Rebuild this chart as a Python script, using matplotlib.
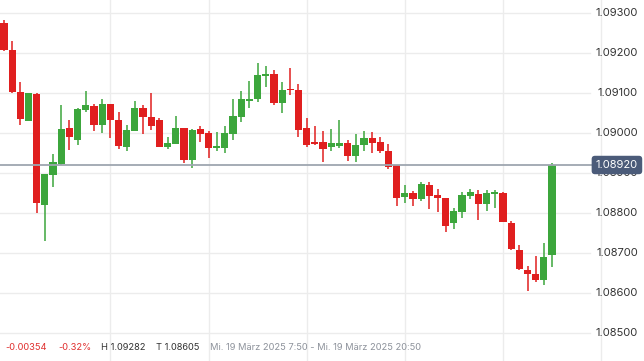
import matplotlib
matplotlib.use("Agg")
import matplotlib.pyplot as plt
from matplotlib.transforms import blended_transform_factory
import numpy as np

plt.rcParams['font.family'] = ['Inter', 'DejaVu Sans']

opens = [1.09274, 1.09208, 1.09103, 1.09031, 1.09098, 1.08821, 1.08896, 1.08923, 1.09013, 1.08983,
         1.09058, 1.09068, 1.09021, 1.09073, 1.09033, 1.08966, 1.09006, 1.09063, 1.09040, 1.09033,
         1.08966, 1.08973, 1.09013, 1.08933, 1.09010, 1.09000, 1.08963, 1.08963, 1.08998, 1.09040,
         1.09081, 1.09085, 1.09143, 1.09148, 1.09075, 1.09110, 1.09108, 1.09013, 1.08978, 1.08978,
         1.08965, 1.08968, 1.08975, 1.08943, 1.08970, 1.08988, 1.08978, 1.08955, 1.08920, 1.08840,
         1.08850, 1.08835, 1.08870, 1.08845, 1.08838, 1.08775, 1.08803, 1.08843, 1.08848, 1.08823,
         1.08848, 1.08850, 1.08775, 1.08708, 1.08658, 1.08648, 1.08633, 1.08695]
highs = [1.09282, 1.09230, 1.09128, 1.09100, 1.09100, 1.08898, 1.08948, 1.09070, 1.09033, 1.09063,
         1.09105, 1.09073, 1.09085, 1.09073, 1.09053, 1.09020, 1.09080, 1.09070, 1.09100, 1.09038,
         1.08990, 1.09043, 1.09013, 1.09010, 1.09018, 1.09005, 1.09003, 1.09018, 1.09085, 1.09105,
         1.09130, 1.09175, 1.09168, 1.09158, 1.09128, 1.09163, 1.09123, 1.09038, 1.09018, 1.09005,
         1.09010, 1.09033, 1.08983, 1.08998, 1.09005, 1.09003, 1.08990, 1.08973, 1.08920, 1.08870,
         1.08855, 1.08878, 1.08878, 1.08860, 1.08838, 1.08813, 1.08853, 1.08860, 1.08858, 1.08858,
         1.08858, 1.08853, 1.08780, 1.08720, 1.08668, 1.08693, 1.08725, 1.08925]
lows = [1.09205, 1.09100, 1.09021, 1.09031, 1.08801, 1.08731, 1.08866, 1.08921, 1.08958, 1.08971,
        1.09053, 1.09006, 1.09001, 1.08988, 1.08961, 1.08956, 1.09006, 1.08998, 1.09008, 1.08966,
        1.08961, 1.08973, 1.08926, 1.08913, 1.08978, 1.08938, 1.08956, 1.08950, 1.08982, 1.09028,
        1.09063, 1.09078, 1.09115, 1.09070, 1.09050, 1.09095, 1.08990, 1.08965, 1.08970, 1.08928,
        1.08955, 1.08963, 1.08930, 1.08928, 1.08955, 1.08950, 1.08950, 1.08910, 1.08818, 1.08825,
        1.08818, 1.08830, 1.08810, 1.08803, 1.08753, 1.08760, 1.08788, 1.08835, 1.08783, 1.08805,
        1.08813, 1.08778, 1.08708, 1.08658, 1.08605, 1.08628, 1.08620, 1.08665]
closes = [1.09208, 1.09103, 1.09036, 1.09100, 1.08826, 1.08898, 1.08928, 1.09010, 1.08991, 1.09060,
          1.09070, 1.09021, 1.09073, 1.09033, 1.08968, 1.09008, 1.09063, 1.09041, 1.09018, 1.08966,
          1.08975, 1.09013, 1.08933, 1.09008, 1.08998, 1.08963, 1.08968, 1.09000, 1.09043, 1.09085,
          1.09085, 1.09145, 1.09148, 1.09075, 1.09108, 1.09108, 1.09008, 1.08970, 1.08973, 1.08960,
          1.08975, 1.08975, 1.08943, 1.08970, 1.08988, 1.08975, 1.08955, 1.08915, 1.08838, 1.08850,
          1.08835, 1.08873, 1.08843, 1.08838, 1.08768, 1.08805, 1.08845, 1.08853, 1.08823, 1.08850,
          1.08853, 1.08778, 1.08710, 1.08660, 1.08648, 1.08633, 1.08690, 1.08920]

price_ticks = [1.085, 1.086, 1.087, 1.088, 1.089, 1.090, 1.091, 1.092, 1.093]
price_labels = ["1.08500", "1.08600", "1.08700", "1.08800", "1.08900", "1.09000", "1.09100", "1.09200", "1.09300"]
time_grid_idx = [13, 25, 37, 49, 61, 73]
last_price = 1.08920
last_label = "1.08920"
info_texts = ["-0.00354", "-0.32%", "H 1.09282", "T 1.08605",
              "Mi. 19 März 2025 7:50 - Mi. 19 März 2025 20:50"]

UP = "#3ca63c"
DOWN = "#e01f1f"
GRID = "#ececec"

W, H = 644, 361
fig = plt.figure(figsize=(W / 100, H / 100), dpi=100)
ax = fig.add_axes([0, 0, 1, 1])
ax.set_axis_off()

step = 8.18
x0px = 4.0
xmin = -x0px / step
xmax = (W - x0px) / step
ymax = 1.09 + 133 / 40000
ymin = 1.09 - (H - 133) / 40000
ax.set_xlim(xmin, xmax)
ax.set_ylim(ymin, ymax)

def px2idx(px):
    return (px - x0px) / step

# grid
for p in price_ticks:
    ax.plot([xmin, px2idx(590)], [p, p], color=GRID, lw=1.0, zorder=0)
for gi in time_grid_idx:
    ax.axvline(gi, color=GRID, lw=1.0, zorder=0)

# candles
o = np.array(opens); h = np.array(highs); l = np.array(lows); c = np.array(closes)
idx = np.arange(len(o))
cols = [UP if cc >= oo else DOWN for oo, cc in zip(o, c)]
ax.vlines(idx, l, h, colors=cols, lw=1.1, zorder=2)
bottoms = np.minimum(o, c)
heights = np.maximum(np.abs(c - o), 0.00003)
ax.bar(idx, heights, bottom=bottoms, width=0.88, color=cols, zorder=3, linewidth=0)

# last price line
ax.plot([xmin, px2idx(592)], [last_price, last_price], color="#9ea6b0", lw=1.3, zorder=4)

# price labels (the 1.08900 label sits behind the last-price box, as in the reference)
tr = blended_transform_factory(ax.transAxes, ax.transData)
for p, s in zip(price_ticks, price_labels):
    ax.text(638 / W, p, s, transform=tr, ha="right", va="center", fontsize=8, color="#333333", zorder=5)
ax.text(638 / W, last_price, last_label, transform=tr, ha="right", va="center", fontsize=8,
        color="white", zorder=6,
        bbox=dict(boxstyle="round,pad=0.38,rounding_size=0.3", fc="#4b5b79", ec="none"))

# bottom info line
ypos = 1 - 348 / H
xs = [5, 58, 101, 156, 210]
tcols = ["#e0302f", "#e0302f", "#333333", "#333333", "#8d929b"]
for x, s, cl in zip(xs, info_texts, tcols):
    ax.text(x / W, ypos, s, transform=ax.transAxes, ha="left", va="center", fontsize=6.7, color=cl, zorder=5)

fig.savefig("out.png", dpi=100)
